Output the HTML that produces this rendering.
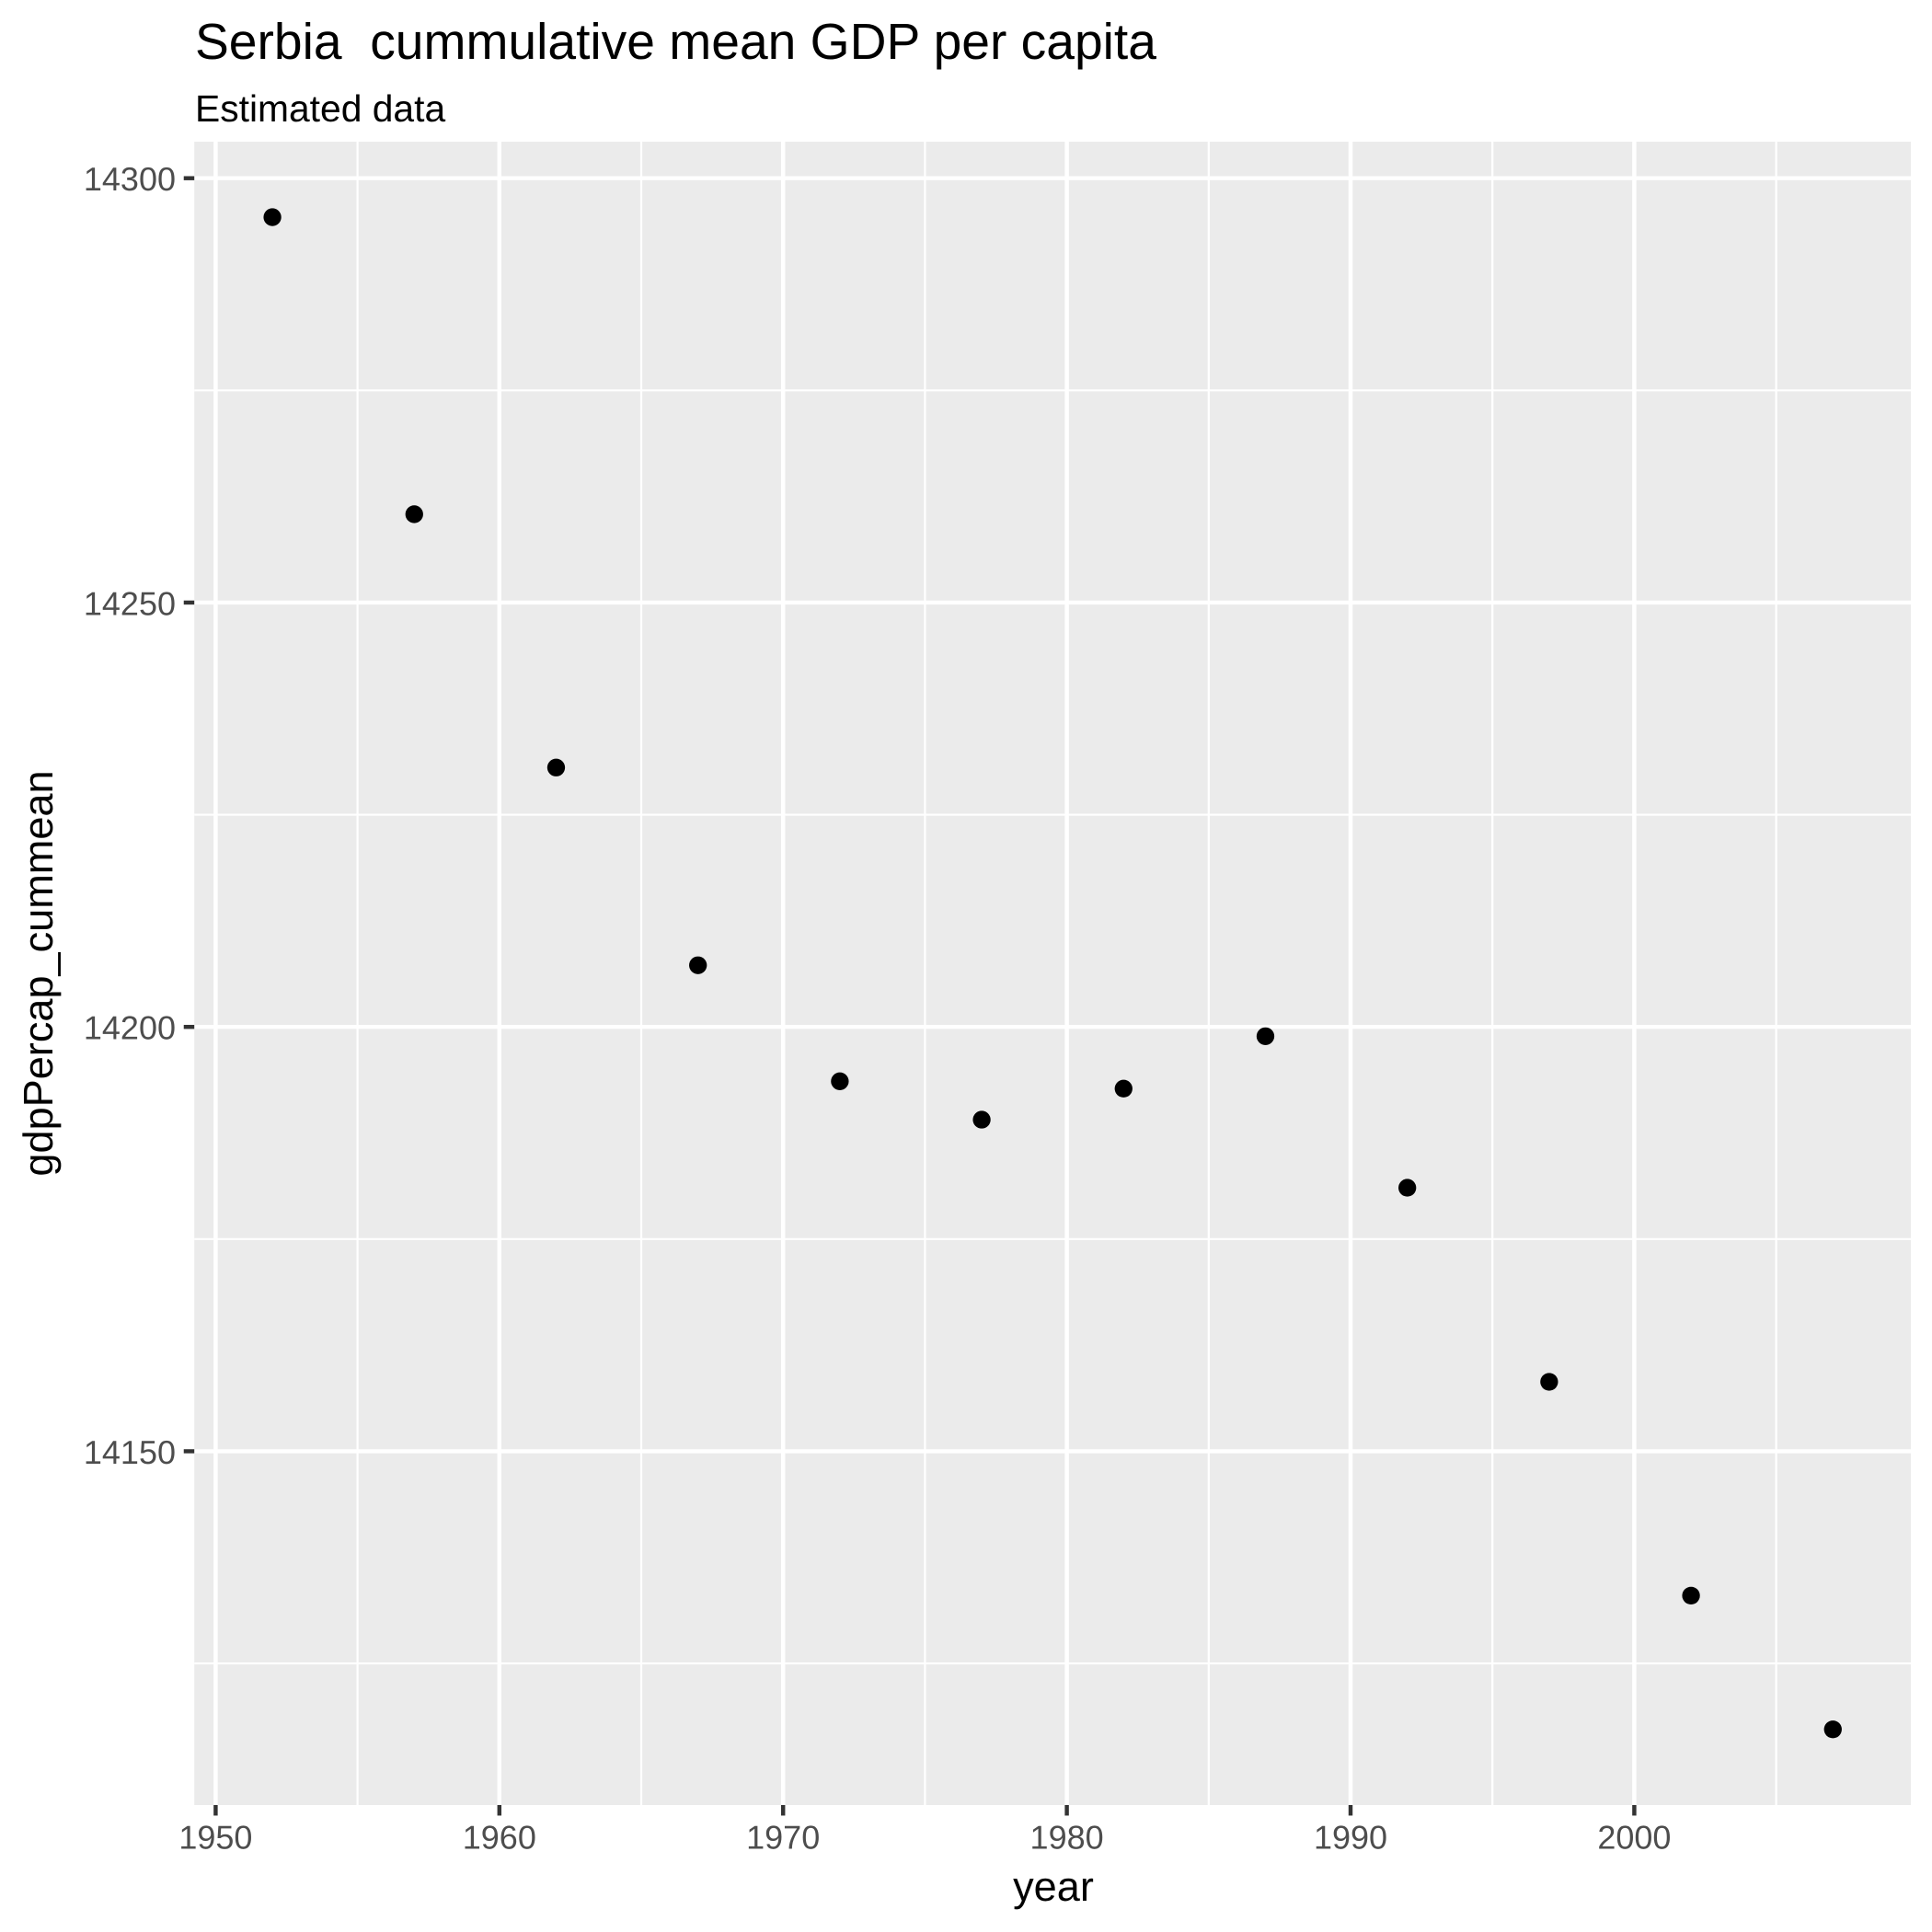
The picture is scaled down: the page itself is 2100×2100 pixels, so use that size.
<!DOCTYPE html>
<html lang="en">
<head>
<meta charset="utf-8">
<title>Serbia cummulative mean GDP per capita</title>
<style>
html,body{margin:0;padding:0;background:#fff;}
svg{display:block;font-family:"Liberation Sans",Arial,sans-serif;text-rendering:geometricPrecision;}
</style>
</head>
<body>
<svg id="chart" xmlns="http://www.w3.org/2000/svg" width="2100" height="2100" viewBox="0 0 2100 2100">
  <rect x="0" y="0" width="2100" height="2100" fill="#ffffff"/>
  <text x="212" y="64" font-size="55.2" fill="#000000" xml:space="preserve" style="white-space:pre">Serbia  cummulative mean GDP per capita</text>
  <text x="212" y="132" font-size="40.8" fill="#000000">Estimated data</text>
  <rect x="211.2" y="154" width="1865.8" height="1808" fill="#ebebeb"/>
  <g id="grid-minor"></g>
  <g id="grid-major"></g>
  <g id="points"></g>
  <g id="axis-x"></g>
  <g id="axis-y"></g>
  <text x="1145" y="2066" font-size="45.1" text-anchor="middle" fill="#000000">year</text>
  <text transform="translate(57 1058) rotate(-90)" font-size="45.1" text-anchor="middle" fill="#000000">gdpPercap_cummean</text>
</svg>
<script>
const years = [1952, 1957, 1962, 1967, 1972, 1977, 1982, 1987, 1992, 1997, 2002, 2007];
const gdpPercapCummean = [14295.41, 14260.41, 14230.56, 14207.26, 14193.59, 14189.07, 14192.73, 14198.9, 14181.05, 14158.18, 14132.99, 14117.23];
const xTicks = [1950, 1960, 1970, 1980, 1990, 2000];
const yTicks = [14150, 14200, 14250, 14300];
const xMinorBreaks = [1955, 1965, 1975, 1985, 1995, 2005];
const yMinorBreaks = [14125, 14175, 14225, 14275];

const SVG_NS = 'http://www.w3.org/2000/svg';
const panel = { left: 211.2, right: 2077, top: 154, bottom: 1962 };

function xScale(year) {
  return 234.4 + (year - 1950) * 30.84;
}
function yScale(value) {
  return 193.7 + (14300 - value) * 9.225;
}
function addLine(parent, x1, y1, x2, y2, stroke, width) {
  const el = document.createElementNS(SVG_NS, 'line');
  el.setAttribute('x1', x1);
  el.setAttribute('y1', y1);
  el.setAttribute('x2', x2);
  el.setAttribute('y2', y2);
  el.setAttribute('stroke', stroke);
  el.setAttribute('stroke-width', width);
  parent.appendChild(el);
  return el;
}
function addLabel(parent, x, y, anchor, content) {
  const el = document.createElementNS(SVG_NS, 'text');
  el.setAttribute('x', x);
  el.setAttribute('y', y);
  el.setAttribute('text-anchor', anchor);
  el.setAttribute('font-size', '36');
  el.setAttribute('fill', '#4d4d4d');
  el.textContent = content;
  parent.appendChild(el);
  return el;
}

const gridMinor = document.getElementById('grid-minor');
const gridMajor = document.getElementById('grid-major');
const pointsGroup = document.getElementById('points');
const axisX = document.getElementById('axis-x');
const axisY = document.getElementById('axis-y');

xMinorBreaks.forEach(function (b) {
  const line = addLine(gridMinor, xScale(b), panel.top, xScale(b), panel.bottom, '#ffffff', 2.22);
  
  
});
yMinorBreaks.forEach(function (b) {
  const line = addLine(gridMinor, panel.left, yScale(b), panel.right, yScale(b), '#ffffff', 2.22);
  
  
});
xTicks.forEach(function (t) {
  const line = addLine(gridMajor, xScale(t), panel.top, xScale(t), panel.bottom, '#ffffff', 4.45);
  
  
  const tick = addLine(axisX, xScale(t), panel.bottom, xScale(t), panel.bottom + 11.46, '#333333', 4.45);
  
  
  const label = addLabel(axisX, xScale(t), 2009.3, 'middle', String(t));
  
  
});
yTicks.forEach(function (t) {
  const line = addLine(gridMajor, panel.left, yScale(t), panel.right, yScale(t), '#ffffff', 4.45);
  
  
  const tick = addLine(axisY, panel.left - 11.46, yScale(t), panel.left, yScale(t), '#333333', 4.45);
  
  
  const label = addLabel(axisY, 191, yScale(t) + 13.3, 'end', String(t));
  
  
});
years.forEach(function (year, i) {
  const dot = document.createElementNS(SVG_NS, 'circle');
  dot.setAttribute('cx', xScale(year));
  dot.setAttribute('cy', yScale(gdpPercapCummean[i]));
  dot.setAttribute('r', 9.65);
  dot.setAttribute('fill', '#000000');
  
  
  pointsGroup.appendChild(dot);
});
</script>
</body>
</html>
